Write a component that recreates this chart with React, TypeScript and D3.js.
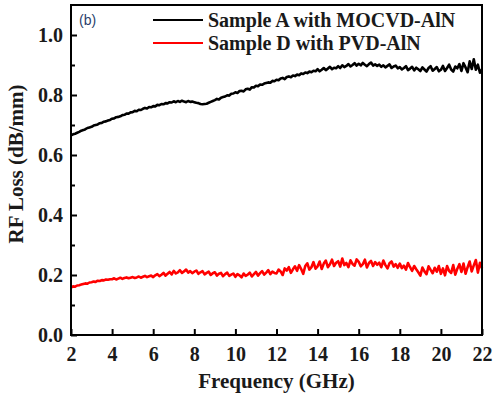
import React, { useEffect, useRef } from 'react';
import * as d3 from 'd3';

// frequency grid, 2 to 22 GHz in 0.1 GHz steps
const freqStart = 2;
const freqStep = 0.1;

const sampleA = [
  0.665, 0.669, 0.671, 0.674, 0.677, 0.681, 0.683, 0.686, 0.690, 0.692,
  0.694, 0.698, 0.700, 0.702, 0.706, 0.707, 0.711, 0.712, 0.715, 0.717,
  0.721, 0.722, 0.726, 0.727, 0.729, 0.733, 0.734, 0.738, 0.738, 0.742,
  0.743, 0.747, 0.746, 0.751, 0.750, 0.754, 0.757, 0.755, 0.760, 0.759,
  0.763, 0.762, 0.767, 0.766, 0.770, 0.769, 0.773, 0.772, 0.776, 0.775,
  0.779, 0.776, 0.780, 0.777, 0.781, 0.778, 0.776, 0.780, 0.777, 0.778,
  0.776, 0.774, 0.773, 0.770, 0.769, 0.770, 0.771, 0.774, 0.777, 0.780,
  0.783, 0.787, 0.785, 0.791, 0.793, 0.795, 0.799, 0.798, 0.804, 0.805,
  0.809, 0.807, 0.813, 0.814, 0.812, 0.819, 0.821, 0.818, 0.826, 0.825,
  0.831, 0.829, 0.835, 0.834, 0.838, 0.840, 0.842, 0.841, 0.847, 0.846,
  0.851, 0.849, 0.855, 0.857, 0.853, 0.860, 0.862, 0.859, 0.865, 0.863,
  0.868, 0.866, 0.872, 0.870, 0.875, 0.873, 0.878, 0.876, 0.881, 0.879,
  0.886, 0.879, 0.884, 0.890, 0.883, 0.888, 0.894, 0.886, 0.891, 0.889,
  0.896, 0.890, 0.899, 0.893, 0.897, 0.903, 0.895, 0.900, 0.906, 0.898,
  0.904, 0.899, 0.907, 0.901, 0.896, 0.903, 0.908, 0.898, 0.902, 0.897,
  0.901, 0.894, 0.899, 0.892, 0.897, 0.902, 0.890, 0.895, 0.898, 0.889,
  0.893, 0.885, 0.890, 0.896, 0.883, 0.888, 0.894, 0.882, 0.891, 0.886,
  0.880, 0.892, 0.885, 0.878, 0.890, 0.896, 0.881, 0.887, 0.893, 0.879,
  0.884, 0.897, 0.880, 0.890, 0.901, 0.885, 0.878, 0.895, 0.889, 0.903,
  0.880, 0.906, 0.892, 0.876, 0.912, 0.887, 0.919, 0.884, 0.901, 0.874,
  0.885
];

const sampleD = [
  0.158, 0.162, 0.161, 0.165, 0.166, 0.168, 0.170, 0.172, 0.171, 0.175,
  0.176, 0.178, 0.177, 0.181, 0.180, 0.183, 0.182, 0.185, 0.184, 0.186,
  0.186, 0.189, 0.185, 0.188, 0.191, 0.187, 0.190, 0.192, 0.189, 0.191,
  0.193, 0.190, 0.192, 0.195, 0.191, 0.194, 0.197, 0.193, 0.196, 0.198,
  0.193, 0.199, 0.203, 0.196, 0.201, 0.207, 0.198, 0.204, 0.210, 0.202,
  0.214, 0.205, 0.209, 0.216, 0.207, 0.212, 0.218, 0.208, 0.213, 0.206,
  0.211, 0.215, 0.204, 0.209, 0.213, 0.202, 0.207, 0.211, 0.200, 0.206,
  0.209, 0.198, 0.204, 0.207, 0.196, 0.203, 0.208, 0.197, 0.201, 0.205,
  0.194, 0.203, 0.199, 0.192, 0.205, 0.197, 0.201, 0.208, 0.195, 0.203,
  0.210, 0.198, 0.206, 0.213, 0.201, 0.208, 0.216, 0.203, 0.211, 0.207,
  0.205, 0.218, 0.212, 0.200, 0.222, 0.215, 0.226, 0.207, 0.219, 0.229,
  0.214, 0.233, 0.220, 0.204, 0.230, 0.239, 0.218, 0.226, 0.243, 0.221,
  0.229, 0.245, 0.220, 0.238, 0.248, 0.226, 0.236, 0.251, 0.230, 0.241,
  0.246, 0.228, 0.255, 0.233, 0.240, 0.226, 0.249, 0.237, 0.231, 0.252,
  0.244, 0.229, 0.236, 0.251, 0.225, 0.240, 0.247, 0.230, 0.243, 0.234,
  0.241, 0.226, 0.248, 0.233, 0.222, 0.239, 0.245, 0.228, 0.236, 0.224,
  0.238, 0.223, 0.231, 0.218, 0.240, 0.226, 0.214, 0.230, 0.219, 0.209,
  0.198, 0.225, 0.212, 0.203, 0.229, 0.217, 0.206, 0.224, 0.211, 0.230,
  0.204, 0.222, 0.199, 0.230, 0.213, 0.207, 0.233, 0.201, 0.221, 0.236,
  0.210, 0.238, 0.204, 0.226, 0.245, 0.212, 0.232, 0.250, 0.208, 0.241,
  0.222
];

const xTicks = [2, 4, 6, 8, 10, 12, 14, 16, 18, 20, 22];
const yTicks = [0.0, 0.2, 0.4, 0.6, 0.8, 1.0];
const yMinorTicks = [0.1, 0.3, 0.5, 0.7, 0.9];

const seriesNames = ['Sample A with MOCVD-AlN', 'Sample D with PVD-AlN'];
const seriesColors = ['#000000', '#ff0000'];

const W = 500;
const H = 396;
const margin = { top: 5, right: 18, bottom: 61, left: 71 };
const serif = '"Liberation Serif", "Times New Roman", serif';

export default function App() {
  const ref = useRef<SVGSVGElement>(null);

  useEffect(() => {
    const svg = d3.select(ref.current);
    svg.selectAll('*').remove();

    const width = W - margin.left - margin.right;
    const height = H - margin.top - margin.bottom;

    const x = d3.scaleLinear().domain([2, 22]).range([0, width]);
    const y = d3.scaleLinear().domain([0, 1.1]).range([height, 0]);

    const g = svg.append('g')
      .attr('transform', 'translate(' + margin.left + ',' + margin.top + ')');

    const line = d3.line<number>()
      .x((d, i) => x(freqStart + i * freqStep))
      .y(d => y(d));

    // red drawn first, black on top
    g.append('path')
      .datum(sampleD)
      .attr('fill', 'none')
      .attr('stroke', seriesColors[1])
      .attr('stroke-width', 2.6)
      .attr('stroke-linejoin', 'round')
      .attr('d', line);

    g.append('path')
      .datum(sampleA)
      .attr('fill', 'none')
      .attr('stroke', seriesColors[0])
      .attr('stroke-width', 2.6)
      .attr('stroke-linejoin', 'round')
      .attr('d', line);

    // axes
    const xAxis = g.append('g')
      .attr('transform', 'translate(0,' + height + ')')
      .call(d3.axisBottom(x).tickValues(xTicks).tickSizeInner(-6).tickSizeOuter(0).tickPadding(12).tickFormat(d3.format('d')));

    const yAxis = g.append('g')
      .call(d3.axisLeft(y).tickValues(yTicks).tickSizeInner(-6).tickSizeOuter(0).tickPadding(8).tickFormat(d3.format('.1f')));

    g.append('g')
      .call(d3.axisLeft(y).tickValues(yMinorTicks).tickSizeInner(-4).tickSizeOuter(0).tickFormat(() => ''))
      .select('.domain').remove();

    [xAxis, yAxis].forEach(a => {
      a.attr('font-family', null).attr('font-size', null);
      a.selectAll('.tick text')
        .attr('fill', '#1a1a1a')
        .attr('font-family', serif)
        .attr('font-weight', 'bold')
        .attr('font-size', 20);
      a.select('.domain').remove();
    });
    g.selectAll('.tick line').attr('stroke', '#000').attr('stroke-width', 2);

    // frame
    g.append('rect')
      .attr('x', 0).attr('y', 0)
      .attr('width', width).attr('height', height)
      .attr('fill', 'none')
      .attr('stroke', '#000')
      .attr('stroke-width', 2);

    // panel tag
    g.append('text')
      .attr('x', 8).attr('y', 20)
      .attr('font-family', '"Liberation Sans", Arial, sans-serif')
      .attr('font-size', 14)
      .attr('fill', '#2b3f6b')
      .text('(b)');

    // legend
    seriesNames.forEach((name, i) => {
      const ly = 15 + i * 23;
      g.append('line')
        .attr('x1', 82).attr('x2', 132)
        .attr('y1', ly).attr('y2', ly)
        .attr('stroke', seriesColors[i])
        .attr('stroke-width', 2);
      g.append('text')
        .attr('x', 137).attr('y', ly + 7)
        .attr('font-family', serif)
        .attr('font-weight', 'bold')
        .attr('font-size', 20)
        .attr('fill', '#1a1a1a')
        .text(name);
    });

    // axis titles
    svg.append('text')
      .attr('x', margin.left + width / 2)
      .attr('y', 388)
      .attr('text-anchor', 'middle')
      .attr('font-family', serif)
      .attr('font-weight', 'bold')
      .attr('font-size', 21)
      .attr('fill', '#1a1a1a')
      .text('Frequency (GHz)');

    svg.append('text')
      .attr('transform', 'translate(23,164) rotate(-90)')
      .attr('text-anchor', 'middle')
      .attr('font-family', serif)
      .attr('font-weight', 'bold')
      .attr('font-size', 21)
      .attr('fill', '#1a1a1a')
      .text('RF Loss (dB/mm)');
  }, []);

  return (
    <svg ref={ref} width={W} height={H}
      style={{ position: 'absolute', left: 0, top: 0, background: '#fff' }} />
  );
}
